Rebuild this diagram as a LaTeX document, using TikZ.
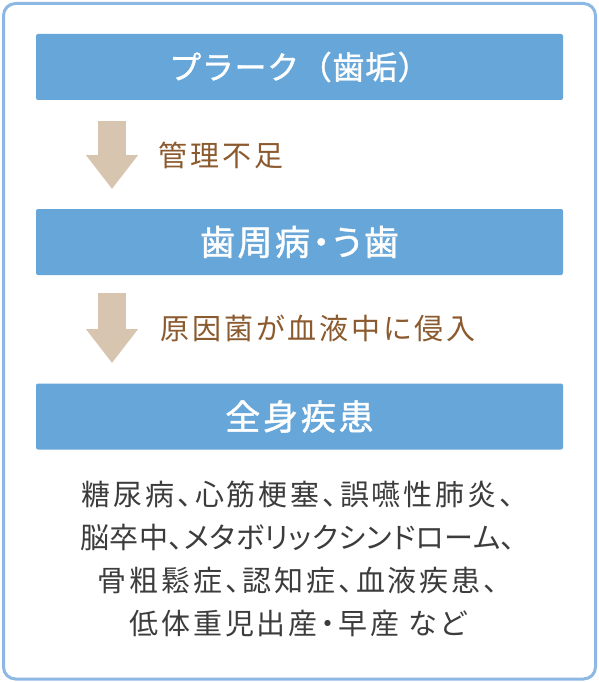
\documentclass[tikz,border=0pt]{standalone}
\usepackage{fontspec}
\usetikzlibrary{arrows.meta}
\newfontfamily\jpp[RawFeature=+palt]{Noto Sans CJK JP}
\newfontfamily\jpb[FakeBold=1.2]{Noto Sans CJK JP}
\newfontfamily\jpbp[FakeBold=1.2,RawFeature=+palt]{Noto Sans CJK JP}
\definecolor{boxblue}{HTML}{67A6D9}
\definecolor{framecol}{HTML}{8DB8E3}
\definecolor{arrowcol}{HTML}{D8C5B0}
\definecolor{labelcol}{HTML}{8B5A2E}
\definecolor{textcol}{HTML}{3C3C3C}
\begin{document}
\begin{tikzpicture}[x=1pt,y=-1pt,
  frame/.style={draw=framecol, line width=3pt, rounded corners=12pt, fill=white,
    minimum width=592pt, minimum height=675.5pt, inner sep=0pt},
  headbox/.style={fill=boxblue, rounded corners=2pt, minimum width=527pt,
    minimum height=66pt, inner sep=0pt, text=white},
  flowarrow/.style={draw=arrowcol, line width=28pt,
    -{Triangle[width=50pt,length=34pt]}, arrowcol},
  steplabel/.style={anchor=west, inner sep=0pt, text=labelcol,
    font=\jpp\fontsize{29pt}{34pt}\selectfont\addfontfeature{LetterSpace=10}},
  resulttext/.style={align=center, inner sep=0pt, text=textcol,
    font=\jpp\fontsize{29pt}{43pt}\selectfont\addfontfeature{LetterSpace=10}}
]
\useasboundingbox (0,0) rectangle (599,682);
\node[frame] (frame) at (299.5,341.25) {};
\node[headbox, font=\jpb\fontsize{32pt}{36pt}\selectfont\addfontfeature{LetterSpace=2}] (box1) at (299.5,67)
  {プラーク（歯垢）};
\node[headbox, font=\jpbp\fontsize{35pt}{40pt}\selectfont\addfontfeature{LetterSpace=7}] (box2) at (299.5,242)
  {歯周病・う歯};
\node[headbox, font=\jpbp\fontsize{35pt}{40pt}\selectfont\addfontfeature{LetterSpace=8}] (box3) at (299.5,416.5)
  {全身疾患};
\coordinate (a1s) at (112,121);
\coordinate (a1e) at (112,189);
\coordinate (a2s) at (112,293);
\coordinate (a2e) at (112,363);
\draw[flowarrow] (a1s) -- (a1e);
\draw[flowarrow] (a2s) -- (a2e);
\node[steplabel] (lab1) at (158.5,155) {管理不足};
\node[steplabel] (lab2) at (160.5,328) {原因菌が血液中に侵入};
\node[resulttext] (result) at (298,558.5)
  {糖尿病、心筋梗塞、誤嚥性肺炎、\\
   {\addfontfeature{LetterSpace=2}脳卒中、メタボリックシンドローム、}\\
   骨粗鬆症、認知症、血液疾患、\\
   低体重児出産・早産 など};
\end{tikzpicture}
\end{document}
